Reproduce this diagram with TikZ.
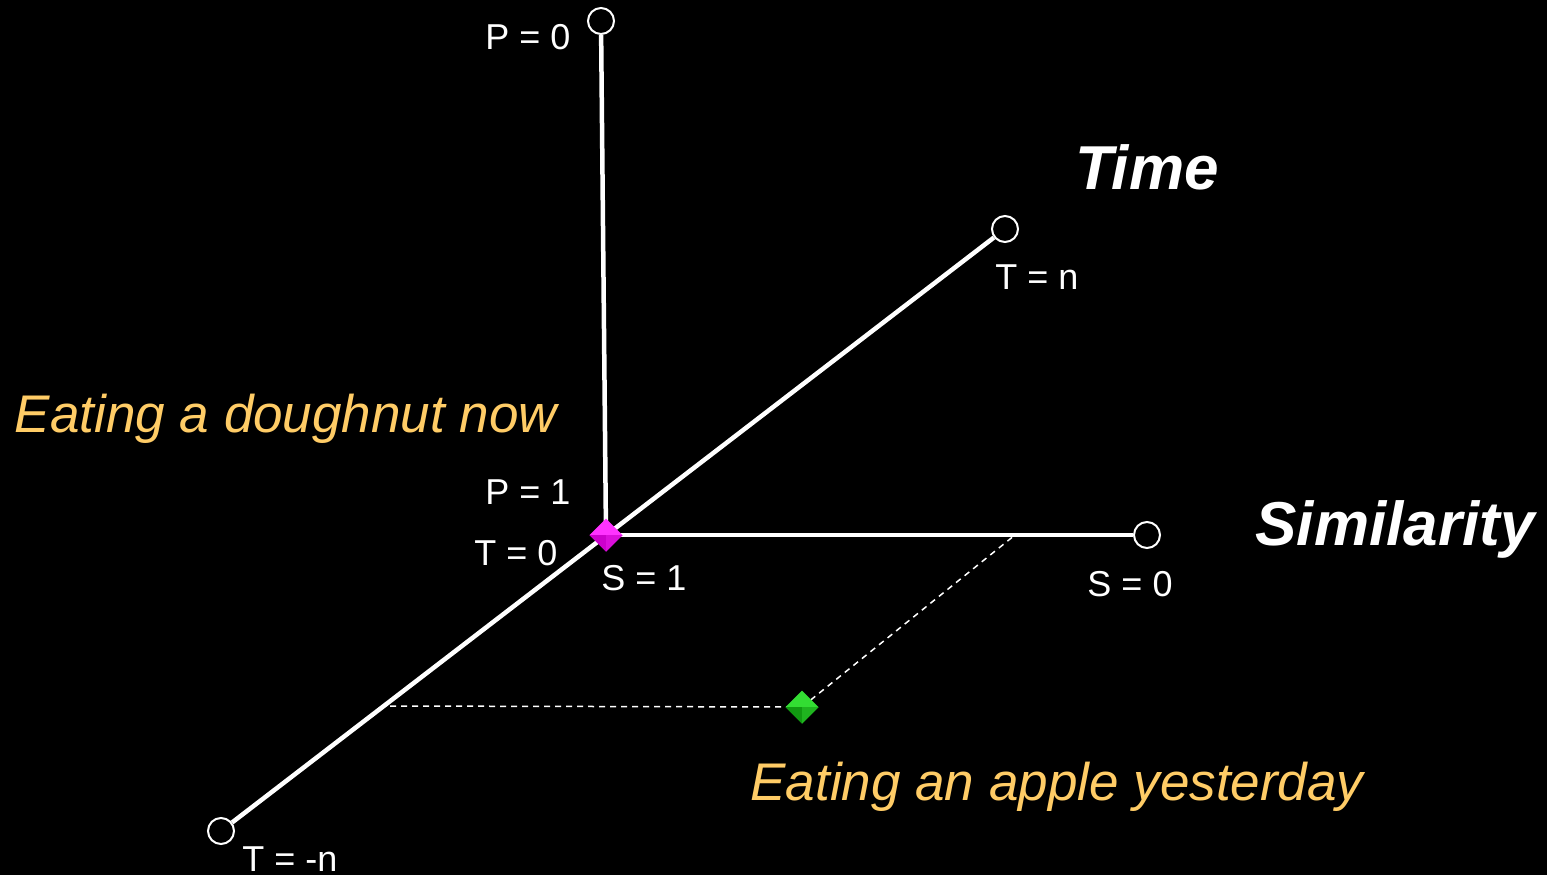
\documentclass[tikz,border=0pt]{standalone}
\usepackage{fontspec}
\setmainfont{Liberation Sans}
\usetikzlibrary{shapes.geometric}
\definecolor{lbl}{HTML}{FFCC66}
\definecolor{mag}{HTML}{FF33FF}
\definecolor{magd}{HTML}{CC00CC}
\definecolor{grn}{HTML}{33DD33}
\definecolor{grnd}{HTML}{119911}
\tikzset{
  axis/.style={draw=white, line width=4.5pt},
  guide/.style={draw=white, line width=1.5pt, dash pattern=on 6pt off 5pt},
  endpt/.style={circle, draw=white, fill=black, line width=2pt, minimum size=26pt, inner sep=0pt},
  gem/.style={diamond, minimum size=33pt, inner sep=0pt},
  val/.style={text=white, font=\fontsize{36}{40}\selectfont, inner sep=0pt},
  title/.style={text=white, font=\fontsize{62}{70}\selectfont\bfseries\itshape, inner sep=0pt},
  event/.style={text=lbl, font=\fontsize{53}{60}\selectfont\itshape, inner sep=0pt},
}
\begin{document}
\begin{tikzpicture}[x=1pt,y=-1pt]
\fill[black] (0,0) rectangle (1547,875);
\useasboundingbox (0,0) rectangle (1547,875);
% endpoints
\node[endpt] (p0) at (601,21) {};
\node[endpt] (tn) at (1005,229) {};
\node[endpt] (s0) at (1147,535) {};
\node[endpt] (tmn) at (221,831) {};
\coordinate (origin) at (606,535);
\coordinate (ta) at (390,706);
\coordinate (sa) at (1015,535);
\coordinate (g) at (802,707);
% axes
\draw[axis] (p0) -- (origin);
\draw[axis] (tn) -- (tmn);
\draw[axis] (origin) -- (s0);
% guides
\draw[guide] (ta) -- (g);
\draw[guide] (g) -- (sa);
% gems
\node[gem, fill=mag] (dn) at (origin) {};
\fill[magd] (dn.west) -- (dn.south) -- (dn.east) -- (dn.center) -- cycle;
\fill[magd!70!mag] (dn.south) -- (dn.east) -- (dn.center) -- cycle;
\node[gem, fill=grn] (ap) at (g) {};
\fill[grnd] (ap.west) -- (ap.south) -- (ap.east) -- (ap.center) -- cycle;
\fill[grnd!60!grn] (ap.south) -- (ap.east) -- (ap.center) -- cycle;
% labels
\node[val] (lp0) at (528,37) {P = 0};
\node[val] (lp1) at (528,492) {P = 1};
\node[val] (lt0) at (516,553) {T = 0};
\node[val] (ls1) at (644,578) {S = 1};
\node[val] (ltn) at (1037,277) {T = n};
\node[val] (ls0) at (1130,584) {S = 0};
\node[val] (ltmn) at (290,859) {T = -n};
\node[title] (time) at (1147,167) {Time};
\node[title] (sim) at (1395,529) {Similarity};
\node[event] (e1) at (286,419) {Eating a doughnut now};
\node[event] (e2) at (1057,787) {Eating an apple yesterday};
\end{tikzpicture}
\end{document}
